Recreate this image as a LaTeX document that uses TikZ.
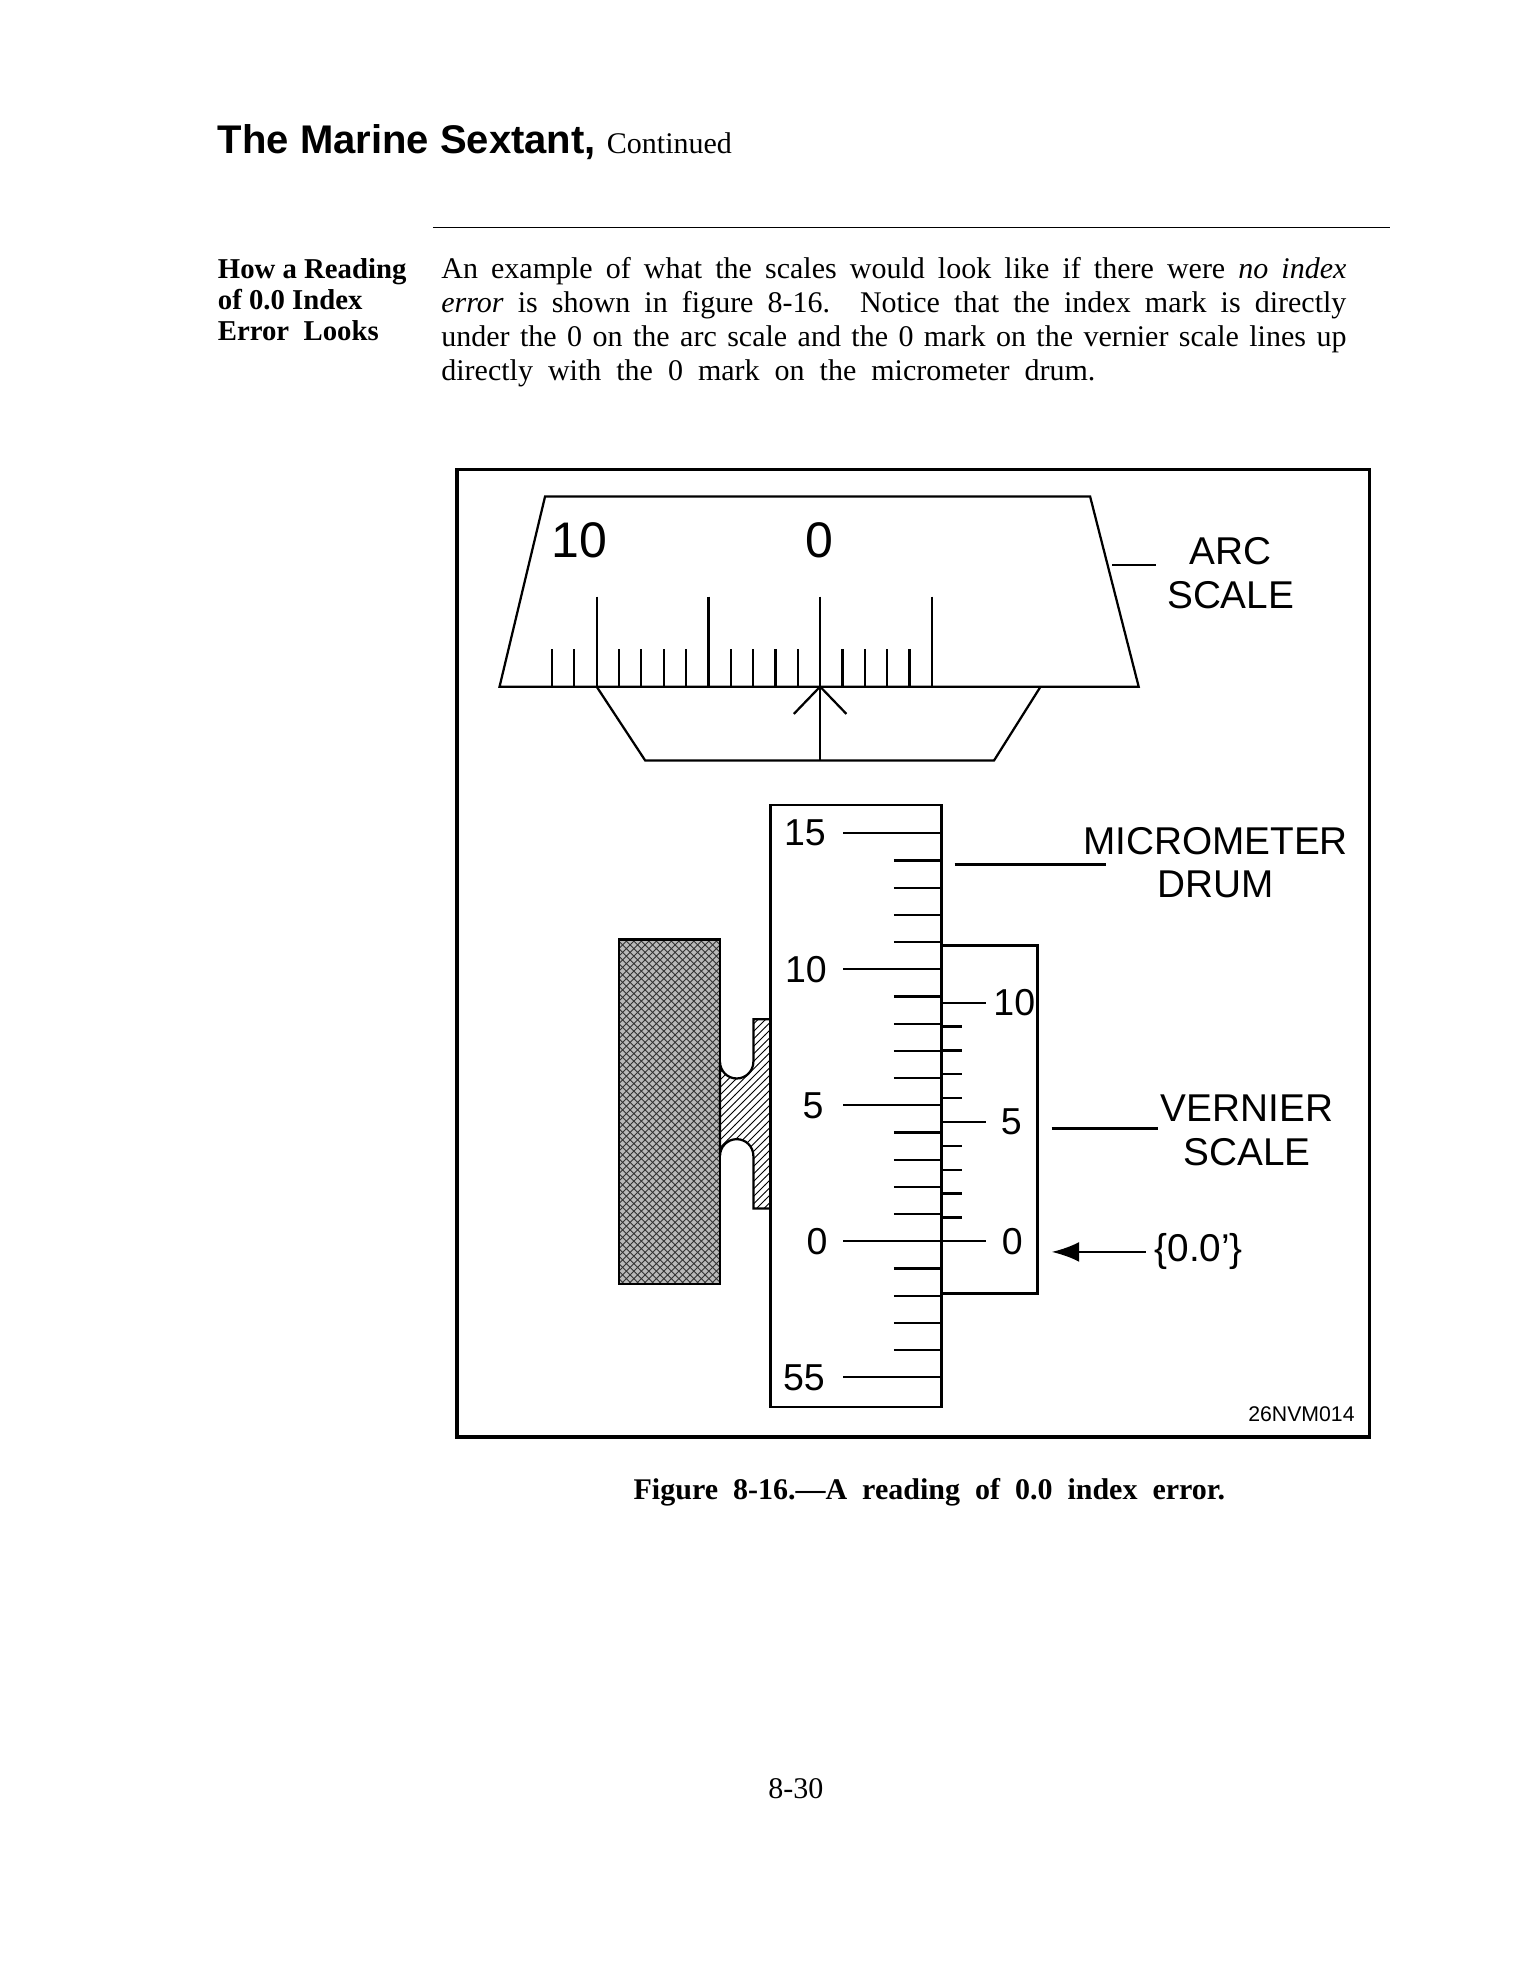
\documentclass[tikz,border=0pt]{standalone}
\usepackage{fontspec}
\setmainfont{Liberation Serif}
\setsansfont{Liberation Sans}
\usetikzlibrary{patterns,arrows.meta}
\begin{document}
\begin{tikzpicture}[x=0.4045pt,y=-0.4045pt,
  ln/.style={line width=0.9pt},
  fig/.style={font=\sffamily\fontsize{15}{15}\selectfont},
  big/.style={font=\sffamily\fontsize{15.5}{17.5}\selectfont, align=center},
  arcnum/.style={font=\sffamily\fontsize{20}{20}\selectfont}]
\useasboundingbox (0,0) rectangle (1512.98,1958.0);
% header
\node[anchor=base west, inner sep=0] (head) at (215,152) {\sffamily\bfseries\fontsize{16}{16}\selectfont The Marine Sextant,\ \rmfamily\mdseries\fontsize{12}{12}\selectfont Continued};
\draw[line width=0.5pt] (428,225) -- (1375,225);
\node[anchor=north west, inner sep=0, align=left, font=\rmfamily\bfseries\fontsize{11.5}{12.4}\selectfont] (side) at (215,255) {How a Reading\\of 0.0 Index\\Error\ \ Looks};
\node[anchor=north west, inner sep=0, text width=362pt, align=justify, font=\rmfamily\fontsize{12}{13.6}\selectfont] (body) at (436,254) {An example of what the scales would look like if there were \emph{no index}\linebreak \emph{error} is shown in figure 8-16. Notice that the index mark is directly\linebreak under the 0 on the arc scale and the 0 mark on the vernier scale lines up\linebreak directly\ \ with\ \ the\ \ 0\ \ mark\ \ on\ \ the\ \ micrometer\ \ drum.};
% frame
\draw[line width=1.3pt] (452,464) rectangle (1354,1421);
% arc scale
\draw[ln] (539,491) -- (1078,491) -- (1126,679) -- (494,679) -- cycle;
\foreach \k in {-12,...,5}{
  \pgfmathsetmacro{\xx}{811+22.1*\k}
  \pgfmathtruncatemacro{\m}{mod(\k+20,5)}
  \ifnum\m=0 \draw[ln] (\xx,590) -- (\xx,679); \else \draw[ln] (\xx,642) -- (\xx,679); \fi
}
\node[arcnum] (a10) at (573,534) {10};
\node[arcnum] (a0) at (810,534) {0};
\draw[ln] (590,679) -- (638,752) -- (983,752) -- (1029,679);
\coordinate (idx) at (811,679);
\coordinate (idxb) at (811,752);
\draw[ln] (idxb) -- (idx);
\draw[ln] (785,706) -- (idx) -- (837,706);
\draw[ln] (1100,559) -- (1143,559);
\node[big] (arc) at (1217,567) {ARC\\SCALE};
% block and flange
\draw[ln, fill=gray!55] (612,929) rectangle (712,1270);
\draw[ln, pattern=crosshatch, pattern color=black!80] (612,929) rectangle (712,1270);
\draw[ln, pattern=north east lines] (712,1050) arc[start angle=180,end angle=0,radius=16.5] -- (745,1008) -- (762,1008) -- (762,1195) -- (745,1195) -- (745,1143) arc[start angle=0,end angle=-180,radius=16.5] -- cycle;
% drum
\draw[ln, fill=white] (762,796) rectangle (931,1391);
\foreach \k in {0,...,20}{
  \pgfmathsetmacro{\yy}{824+26.9*\k}
  \pgfmathtruncatemacro{\m}{mod(\k,5)}
  \ifnum\m=0 \draw[ln] (834,\yy) -- (931,\yy); \else \draw[ln] (884,\yy) -- (931,\yy); \fi
}
\node[fig] (d15) at (796,824) {15};
\node[fig] (d10) at (797,958.5) {10};
\node[fig] (d5) at (804,1093) {5};
\node[fig] (d0) at (808,1227.5) {0};
\node[fig] (d55) at (795,1362) {55};
% vernier
\draw[ln] (931,935) -- (1026,935) -- (1026,1279) -- (931,1279);
\foreach \k in {0,...,10}{
  \pgfmathsetmacro{\yy}{1227.5-23.6*\k}
  \pgfmathtruncatemacro{\m}{mod(\k,5)}
  \ifnum\m=0 \draw[ln] (931,\yy) -- (975,\yy); \else \draw[ln] (931,\yy) -- (951,\yy); \fi
}
\node[fig] (v0) at (1001,1227.5) {0};
\node[fig] (v5) at (1000,1109.5) {5};
\node[fig] (v10) at (1003,991.5) {10};
% labels
\node[big] (mic) at (1202,853) {MICROMETER\\DRUM};
\coordinate (micl) at (944,855);
\coordinate (micr) at (1094,855);
\draw[ln] (micl) -- (micr);
\node[big] (ver) at (1233,1118) {VERNIER\\SCALE};
\coordinate (verl) at (1040,1116);
\coordinate (verr) at (1145,1116);
\draw[ln] (verl) -- (verr);
\node[big, anchor=west] (zero) at (1133,1238) {\{0.0'\}};
\coordinate (arrt) at (1040,1238);
\draw[line width=1.1pt, -{Latex[length=11pt,width=8pt]}] (zero.west) -- (arrt);
\node[font=\sffamily\fontsize{8.5}{8.5}\selectfont] (code) at (1287,1398) {26NVM014};
% caption
\node[font=\rmfamily\bfseries\fontsize{12}{12}\selectfont] (cap) at (919,1476) {Figure\ \ 8-16.—A\ \ reading\ \ of\ \ 0.0\ \ index\ \ error.};
\node[font=\rmfamily\fontsize{12}{12}\selectfont] (pg) at (787,1769) {8-30};
\end{tikzpicture}
\end{document}
